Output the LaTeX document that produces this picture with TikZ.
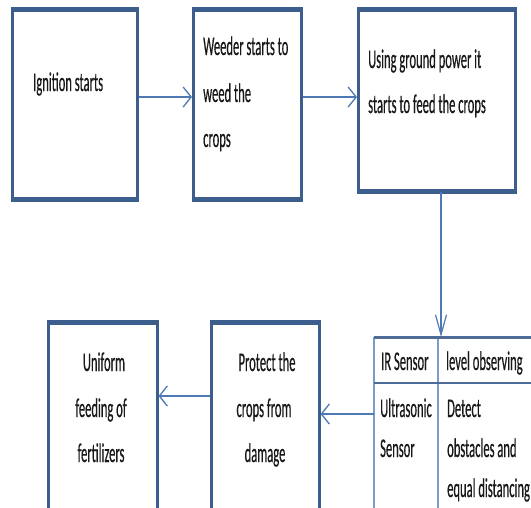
\documentclass[tikz,border=0pt]{standalone}
\usepackage{fontspec}
\usetikzlibrary{arrows.meta}
\newfontfamily\cf[FakeStretch=0.465,FakeBold=0.4]{Carlito}
\definecolor{boxc}{RGB}{60,94,140}
\definecolor{arrc}{RGB}{79,121,180}
\definecolor{tabc}{RGB}{78,108,152}
\definecolor{tabl}{RGB}{120,155,205}
\definecolor{txt}{RGB}{25,25,25}
\tikzset{
  boxnode/.style={draw=boxc, line width=2.5pt, inner sep=0pt, anchor=north west},
  tabnode/.style={draw=none, inner sep=0pt, anchor=north west},
  lbl/.style={inner sep=0pt, text=txt, font=\cf\fontsize{27}{32}\selectfont},
  lw/.style={lbl, anchor=base west},
  lc/.style={lbl, anchor=base},
  harr/.style={draw=arrc, line width=2.5pt, -{Straight Barb[length=8pt,width=20pt,line width=1.3pt]}},
  varr/.style={draw=arrc, line width=1.5pt, -{Straight Barb[length=20pt,width=11pt,line width=1.2pt]}},
}
\begin{document}
\begin{tikzpicture}[x=1pt,y=-1pt]
\useasboundingbox (0,0) rectangle (531,507);
\fill[white] (0,0) rectangle (531,507);
\clip (0,0) rectangle (531,507);

% boxes
\node[boxnode, minimum width=125pt, minimum height=188pt] (b1) at (11,9) {};
\node[boxnode, minimum width=108pt, minimum height=188pt] (b2) at (192,9) {};
\node[boxnode, minimum width=157pt, minimum height=180pt] (b3) at (357,9) {};
\node[boxnode, minimum width=108pt, minimum height=200pt] (b4) at (210,322) {};
\node[boxnode, minimum width=109pt, minimum height=200pt] (b5) at (47,322) {};
\foreach \b in {b1,b2,b3,b4,b5}{
  \draw[boxc, line width=5pt] (\b.north west) -- (\b.north east);
  \draw[boxc, line width=5pt] (\b.south west) -- (\b.south east);
}

% table
\node[tabnode, minimum width=200pt, minimum height=220pt] (tab) at (374,337) {};
\coordinate (colx) at (438,0);
\coordinate (rowy) at (0,383);
\draw[tabl, line width=1.3pt] (tab.north west) -- (tab.south west);
\draw[tabl, line width=1.3pt] (tab.north -| colx) -- (tab.south -| colx);
\draw[tabc, line width=2pt] (tab.west |- rowy) -- (tab.east |- rowy);
\draw[tabc, line width=3pt] (tab.north west) -- (tab.north east);

% texts
\node[lw] (t1) at (33,91) {Ignition starts};
\node[lw] (t2a) at (203,55) {Weeder starts to};
\node[lw] (t2b) at (203,102) {weed the};
\node[lw] (t2c) at (203,147) {crops};
\node[lw] (t3a) at (368,68) {Using ground power it};
\node[lw] (t3b) at (368,113) {starts to feed the crops};
\node[lc] (t4a) at (267,371) {Protect the};
\node[lc] (t4b) at (264,417) {crops from};
\node[lc] (t4c) at (265,462) {damage};
\node[lc] (t5a) at (104,371) {Uniform};
\node[lc] (t5b) at (101,417) {feeding of};
\node[lc] (t5c) at (101,462) {fertilizers};
\node[lw] (c1) at (381,370) {IR Sensor};
\node[lw] (c2) at (446,370) {level observing};
\node[lw] (c3) at (380,417) {Ultrasonic};
\node[lw] (c4) at (380,457) {Sensor};
\node[lw] (c5) at (447,417) {Detect};
\node[lw] (c6) at (447,457) {obstacles and};
\node[lw] (c7) at (447,497) {equal distancing};

% connectors
\coordinate (ya) at (0,97);
\draw[harr] (b1.east |- ya) -- (b2.west |- ya);
\draw[harr] (b2.east |- ya) -- (b3.west |- ya);
\coordinate (vx) at (441,0);
\draw[varr] (b3.south -| vx) -- (tab.north -| vx);
\coordinate (yb) at (0,414);
\draw[harr] (tab.west |- yb) -- (b4.east |- yb);
\coordinate (yc) at (0,396);
\draw[harr] (b4.west |- yc) -- (b5.east |- yc);
\end{tikzpicture}
\end{document}
